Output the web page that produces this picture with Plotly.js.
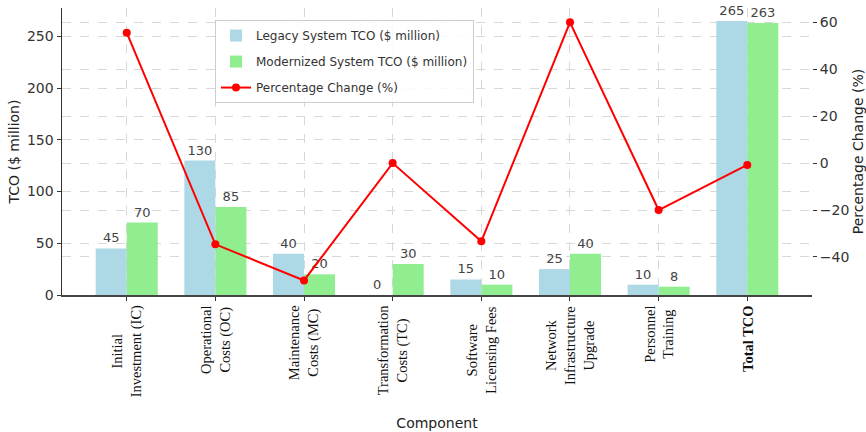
<!DOCTYPE html>
<html>
<head>
<meta charset="utf-8">
<script src="https://cdn.plot.ly/plotly-3.0.1.min.js"></script>
<style>html,body{margin:0;padding:0;background:#fff;}#chart{width:866px;height:432px;}</style>
</head>
<body>
<div id="chart"></div>
<script>
const categories = ["Initial<br>Investment (IC)", "Operational<br>Costs (OC)", "Maintenance<br>Costs (MC)", "Transformation<br>Costs (TC)", "Software<br>Licensing Fees", "Network<br>Infrastructure<br>Upgrade", "Personnel<br>Training", "<b>Total TCO</b>"];
const legacyTCO = [45, 130, 40, 0, 15, 25, 10, 265];
const modernTCO = [70, 85, 20, 30, 10, 40, 8, 263];
const pctChange = [55.6, -34.6, -50, 0, -33.3, 60, -20, -0.75];

const idx = categories.map((c, i) => i);
const sans = "DejaVu Sans, sans-serif";
const serif = "Liberation Serif, Times New Roman, serif";

const traces = [
  {
    type: 'bar', name: 'Legacy System TCO ($ million)', x: idx, y: legacyTCO,
    offset: -0.35, width: 0.35, marker: {color: '#add8e6'},
    text: legacyTCO.map(String), textposition: 'outside', cliponaxis: false,
    textfont: {family: sans, size: 13, color: '#444'}, legendgroup: 'a'
  },
  {
    type: 'bar', name: 'Modernized System TCO ($ million)', x: idx, y: modernTCO,
    offset: 0, width: 0.35, marker: {color: '#90ee90'},
    text: modernTCO.map(String), textposition: 'outside', cliponaxis: false,
    textfont: {family: sans, size: 13, color: '#444'}, legendgroup: 'b'
  },
  {
    type: 'scatter', mode: 'lines+markers', name: 'Percentage Change (%)', x: idx, y: pctChange,
    yaxis: 'y2', line: {color: '#ff0000', width: 2}, marker: {color: '#ff0000', size: 8},
    cliponaxis: false, legendgroup: 'c'
  }
];

const annotations = categories.map((c, i) => ({
  x: i, xref: 'x', y: -0.03, yref: 'paper', yanchor: 'top', xanchor: 'center',
  text: c, textangle: -90, align: 'center', showarrow: false,
  font: {family: serif, size: 14.5, color: '#111'}
}));

const layout = {
  width: 866, height: 432,
  margin: {l: 62, r: 54, t: 8, b: 137},
  paper_bgcolor: '#fff', plot_bgcolor: '#fff',
  barmode: 'overlay',
  showlegend: true,
  legend: {
    x: 0.204, y: 0.958, xanchor: 'left', yanchor: 'top',
    bgcolor: 'rgba(255,255,255,0.85)', bordercolor: '#cccccc', borderwidth: 1,
    font: {family: sans, size: 12, color: '#333'},
    traceorder: 'grouped', tracegroupgap: 7
  },
  xaxis: {
    range: [-0.73, 7.73], tickmode: 'array', tickvals: idx, showticklabels: false,
    ticks: 'outside', ticklen: 4, tickcolor: '#333',
    showline: true, linecolor: '#444', linewidth: 1.5,
    showgrid: true, gridcolor: '#d8d8d8', griddash: 'dash', gridwidth: 1,
    zeroline: false,
    title: {text: 'Component', font: {family: sans, size: 14, color: '#222'}, standoff: 118}
  },
  yaxis: {
    range: [0, 277.5], tickvals: [0, 50, 100, 150, 200, 250],
    ticks: 'outside', ticklen: 4, tickcolor: '#333',
    tickfont: {family: sans, size: 14, color: '#333'},
    showline: true, linecolor: '#333', linewidth: 1.5,
    showgrid: true, gridcolor: '#d8d8d8', griddash: 'dash', gridwidth: 1,
    zeroline: false,
    title: {text: 'TCO ($ million)', font: {family: sans, size: 14, color: '#222'}, standoff: 4}
  },
  yaxis2: {
    overlaying: 'y', side: 'right', range: [-56.2, 66.1],
    tickvals: [-40, -20, 0, 20, 40, 60],
    ticks: 'outside', ticklen: 4, tickcolor: '#333',
    tickfont: {family: sans, size: 14, color: '#333'},
    showline: false,
    showgrid: true, gridcolor: '#d8d8d8', griddash: 'dash', gridwidth: 1,
    zeroline: false,
    title: {text: 'Percentage Change (%)', font: {family: sans, size: 14, color: '#222'}, standoff: 10}
  },
  annotations: annotations
};

Plotly.newPlot('chart', traces, layout, {displayModeBar: false, staticPlot: true});
</script>
</body>
</html>
